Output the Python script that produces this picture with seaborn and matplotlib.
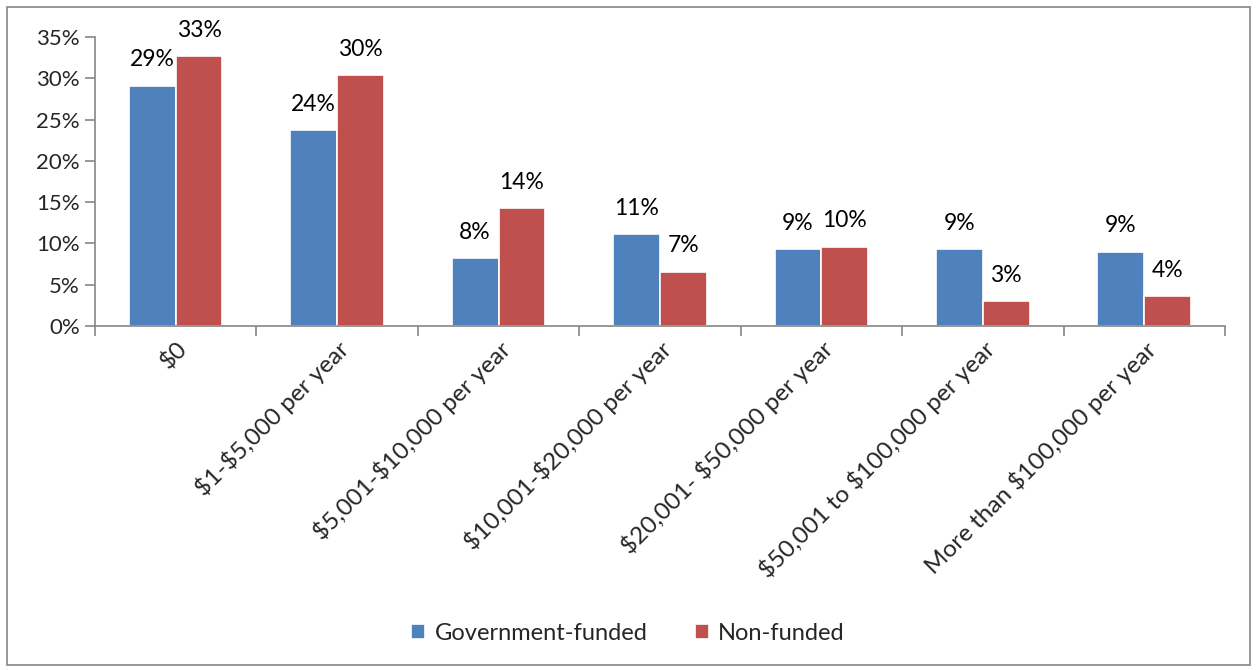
import matplotlib
matplotlib.use("Agg")
import matplotlib.pyplot as plt
import seaborn as sns
import pandas as pd
from matplotlib.patches import Rectangle
from matplotlib.ticker import FuncFormatter, MultipleLocator

categories = [
    "$0",
    "$1-$5,000 per year",
    "$5,001-$10,000 per year",
    "$10,001-$20,000 per year",
    "$20,001- $50,000 per year",
    "$50,001 to $100,000 per year",
    "More than $100,000 per year",
]
series_names = ["Government-funded", "Non-funded"]
government_funded = [29.1, 23.7, 8.2, 11.1, 9.3, 9.3, 9.0]
non_funded = [32.7, 30.4, 14.3, 6.6, 9.6, 3.0, 3.6]
colors = ["#4F81BD", "#C0504D"]

df = pd.DataFrame({
    "category": categories * 2,
    "series": [series_names[0]] * len(categories) + [series_names[1]] * len(categories),
    "value": government_funded + non_funded,
})

sns.set_theme(style="white")
plt.rcParams["font.family"] = ["Lato", "DejaVu Sans"]
plt.rcParams["text.parse_math"] = False

fig = plt.figure(figsize=(12.56, 6.70), dpi=100)
ax = fig.add_axes([0.0756, 0.5134, 0.8997, 0.4314])

sns.barplot(
    data=df, x="category", y="value", hue="series",
    order=categories, hue_order=series_names,
    palette=colors, width=0.58, edgecolor="white", linewidth=1.2,
    saturation=1, ax=ax, legend=True,
)

for container in ax.containers:
    ax.bar_label(container, labels=[f"{v:.0f}%" for v in container.datavalues],
                 padding=11, fontsize=16.5, color="black")

ax.set_ylim(0, 35)
ax.set_xlim(-0.5, len(categories) - 0.5)
ax.yaxis.set_major_locator(MultipleLocator(5))
ax.yaxis.set_major_formatter(FuncFormatter(lambda v, _: f"{v:.0f}%"))
ax.set_xlabel("")
ax.set_ylabel("")

# category boundaries carry the x tick marks; labels sit at the centres
ax.set_xticks([i - 0.5 for i in range(len(categories) + 1)], minor=True)
ax.set_xticks(range(len(categories)))
ax.set_xticklabels(categories, rotation=45, ha="right", rotation_mode="anchor", fontsize=17.5)
ax.tick_params(axis="x", which="major", length=0, pad=8)
ax.tick_params(axis="x", which="minor", length=7, width=1.2, color="#868686", direction="out", bottom=True)
ax.tick_params(axis="y", length=7, width=1.2, color="#868686", direction="out", left=True, labelsize=16, pad=4)

for side in ["top", "right"]:
    ax.spines[side].set_visible(False)
for side in ["left", "bottom"]:
    ax.spines[side].set_color("#868686")
    ax.spines[side].set_linewidth(1.2)

handles, labels = ax.get_legend_handles_labels()
ax.legend_.remove()
fig.legend(handles, labels, loc="center", bbox_to_anchor=(0.5, 1 - 633 / 670),
           ncol=2, frameon=False, fontsize=17, handlelength=0.6, handleheight=0.6,
           columnspacing=2.0, handletextpad=0.4)

# outer chart frame
fig.patches.append(Rectangle((7 / 1256, 5 / 670), 1243 / 1256, 658 / 670,
                             transform=fig.transFigure, fill=False,
                             edgecolor="#868686", linewidth=1.2))

fig.savefig("out.png", dpi=100, facecolor="white")
